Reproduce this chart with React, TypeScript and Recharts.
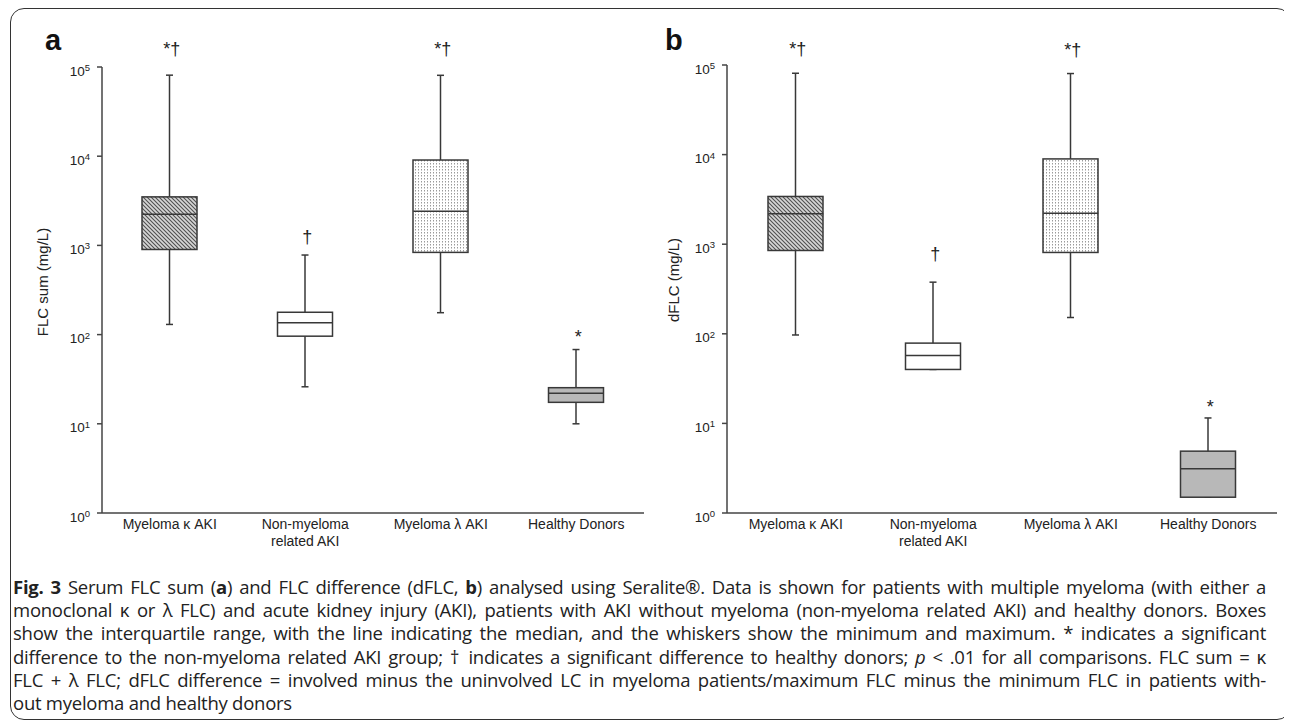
import React from "react";
import { ComposedChart, Bar, Scatter, XAxis, YAxis } from "recharts";

// categories and axis ticks
const groups = ["Myeloma κ AKI", "Non-myeloma\nrelated AKI", "Myeloma λ AKI", "Healthy Donors"];
const yTicks = [1, 10, 100, 1000, 10000, 100000];

// panel a: FLC sum (mg/L)
const sumMin = [130, 26, 176, 10];
const sumQ1 = [900, 96, 835, 17.4];
const sumMedian = [2230, 136, 2410, 22];
const sumQ3 = [3500, 178, 9060, 25.4];
const sumMax = [81000, 780, 80700, 68];
const sumMarks = ["*†", "†", "*†", "*"];

// panel b: dFLC (mg/L)
const diffMin = [97, 40, 152, 1.5];
const diffQ1 = [851, 40, 809, 1.5];
const diffMedian = [2180, 57.4, 2220, 3.12];
const diffQ3 = [3410, 78.7, 8950, 4.9];
const diffMax = [80900, 377, 80300, 11.5];
const diffMarks = ["*†", "†", "*†", "*"];

const boxFills = ["url(#hatch)", "#ffffff", "url(#dots)", "#b8b8b8"];
const LINE = "#383838";
const SANS = "'Liberation Sans', Arial, sans-serif";
const BOX_W = 55;

const buildRows = (mn, q1, md, q3, mx, marks, gaps) =>
  groups.map((name, i) => ({
    name,
    whisker: [mn[i], mx[i]],
    box: [q1[i], q3[i]],
    median: md[i],
    top: mx[i],
    mark: marks[i],
    gap: gaps[i],
    fill: boxFills[i],
  }));

const PowerTick = ({ x, y, payload }: any) => {
  const exp = Math.round(Math.log10(payload.value));
  return (
    <text x={x} y={y} textAnchor="end" fill="#222" fontFamily={SANS} fontSize={13.5}>
      <tspan dy={8.5}>10</tspan>
      <tspan fontSize={9.5} dy={-4.5}>{exp}</tspan>
    </text>
  );
};

const GroupTick = ({ x, y, payload }: any) => {
  const lines = String(payload.value).split("\n");
  return (
    <text x={x} y={y} textAnchor="middle" fill="#222" fontFamily={SANS} fontSize={14}>
      {lines.map((l, i) => (
        <tspan key={i} x={x} dy={i === 0 ? 8 : 17}>{l}</tspan>
      ))}
    </text>
  );
};

const Whisker = ({ x, y, width, height }: any) => {
  const cx = x + width / 2;
  return (
    <g stroke={LINE} strokeWidth={1.5}>
      <line x1={cx} x2={cx} y1={y} y2={y + height} />
      <line x1={cx - 3.5} x2={cx + 3.5} y1={y} y2={y} />
      <line x1={cx - 3.5} x2={cx + 3.5} y1={y + height} y2={y + height} />
    </g>
  );
};

const BoxShape = ({ x, y, width, height, payload }: any) => (
  <rect x={x} y={y} width={width} height={height} fill={payload.fill} stroke={LINE} strokeWidth={1.5} />
);

const MedianShape = ({ cx, cy }: any) => (
  <line x1={cx - BOX_W / 2} x2={cx + BOX_W / 2} y1={cy} y2={cy} stroke={LINE} strokeWidth={1.5} />
);

const MarkShape = ({ cx, cy, payload }: any) => (
  <text x={cx + 2} y={cy - payload.gap} textAnchor="middle" fill="#222" fontFamily={SANS} fontSize={18}>
    {payload.mark}
  </text>
);

const Panel = ({ rows, left, margin }: any) => (
  <div style={{ position: "absolute", left, top: 8 }}>
    <ComposedChart width={640} height={560} data={rows} margin={margin}>
      <XAxis
        xAxisId="m"
        dataKey="name"
        interval={0}
        height={50}
        tickLine={false}
        axisLine={{ stroke: "#444", strokeWidth: 1.5 }}
        tick={<GroupTick />}
      />
      <XAxis xAxisId="o" dataKey="name" hide />
      <YAxis
        scale="log"
        type="number"
        domain={[1, 100000]}
        ticks={yTicks}
        width={60}
        tickSize={5}
        tickMargin={7}
        axisLine={{ stroke: "#444", strokeWidth: 1.5 }}
        tickLine={{ stroke: "#444", strokeWidth: 1.5 }}
        tick={<PowerTick />}
      />
      <Bar xAxisId="o" dataKey="whisker" barSize={BOX_W} shape={<Whisker />} isAnimationActive={false} />
      <Bar xAxisId="m" dataKey="box" barSize={BOX_W} shape={<BoxShape />} isAnimationActive={false} />
      <Scatter xAxisId="m" dataKey="median" shape={<MedianShape />} isAnimationActive={false} />
      <Scatter xAxisId="m" dataKey="top" shape={<MarkShape />} isAnimationActive={false} />
    </ComposedChart>
  </div>
);

const captionLines = [
  <>
    <b>Fig. 3</b> Serum FLC sum (<b>a</b>) and FLC difference (dFLC, <b>b</b>) analysed using Seralite®. Data is shown for patients with multiple myeloma (with either a
  </>,
  <>monoclonal κ or λ FLC) and acute kidney injury (AKI), patients with AKI without myeloma (non-myeloma related AKI) and healthy donors. Boxes</>,
  <>show the interquartile range, with the line indicating the median, and the whiskers show the minimum and maximum. * indicates a significant</>,
  <>
    difference to the non-myeloma related AKI group; † indicates a significant difference to healthy donors; <i>p</i> &lt; .01 for all comparisons. FLC sum = κ
  </>,
  <>FLC + λ FLC; dFLC difference = involved minus the uninvolved LC in myeloma patients/maximum FLC minus the minimum FLC in patients with-</>,
];

export default function App() {
  const rowsA = buildRows(sumMin, sumQ1, sumMedian, sumQ3, sumMax, sumMarks, [20, 12, 20, 7]);
  const rowsB = buildRows(diffMin, diffQ1, diffMedian, diffQ3, diffMax, diffMarks, [18, 22, 18, 5]);
  return (
    <div style={{ position: "relative", width: 1284, height: 714 }}>
      <svg width={0} height={0} style={{ position: "absolute" }}>
        <defs>
          <pattern id="hatch" width={4} height={4} patternUnits="userSpaceOnUse">
            <rect width={4} height={4} fill="#d6d6d6" />
            <path d="M-1,-1 L5,5 M-1,3 L1,5 M3,-1 L5,1" stroke="#505050" strokeWidth={1.1} />
          </pattern>
          <pattern id="dots" width={3} height={3} patternUnits="userSpaceOnUse">
            <rect width={3} height={3} fill="#ffffff" />
            <rect width={1} height={1.5} fill="#9a9a9a" />
          </pattern>
        </defs>
      </svg>
      <div
        style={{
          position: "absolute",
          left: 2,
          top: 0,
          width: 1281,
          height: 712,
          border: "1.5px solid #333",
          borderRadius: 14,
          boxSizing: "border-box",
        }}
      />
      <Panel rows={rowsA} left={2} margin={{ top: 51, right: 6, bottom: 13, left: 32 }} />
      <Panel rows={rowsB} left={642} margin={{ top: 49, right: 13, bottom: 13, left: 17 }} />
      <svg width={1284} height={560} style={{ position: "absolute", left: 0, top: 0, pointerEvents: "none" }}>
        <text x={37} y={42} fontFamily={SANS} fontWeight="bold" fontSize={29} fill="#111">a</text>
        <text x={657} y={42} fontFamily={SANS} fontWeight="bold" fontSize={29} fill="#111">b</text>
        <text
          x={34.5}
          y={274}
          transform="rotate(-90 34.5 274)"
          textAnchor="middle"
          dominantBaseline="central"
          fill="#222"
          fontFamily={SANS}
          fontSize={15}
        >
          FLC sum (mg/L)
        </text>
        <text
          x={665}
          y={272}
          transform="rotate(-90 665 272)"
          textAnchor="middle"
          dominantBaseline="central"
          fill="#222"
          fontFamily={SANS}
          fontSize={15}
        >
          dFLC (mg/L)
        </text>
      </svg>
      <div
        style={{
          position: "absolute",
          left: 5,
          top: 567,
          width: 1253,
          fontFamily: "'Open Sans', Lato, sans-serif",
          fontSize: 18.5,
          letterSpacing: -0.25,
          lineHeight: "23.2px",
          color: "#222",
        }}
      >
        {captionLines.map((l, i) => (
          <div key={i} style={{ textAlign: "justify", textAlignLast: "justify", whiteSpace: "nowrap" }}>
            {l}
          </div>
        ))}
        <div>out myeloma and healthy donors</div>
      </div>
    </div>
  );
}
